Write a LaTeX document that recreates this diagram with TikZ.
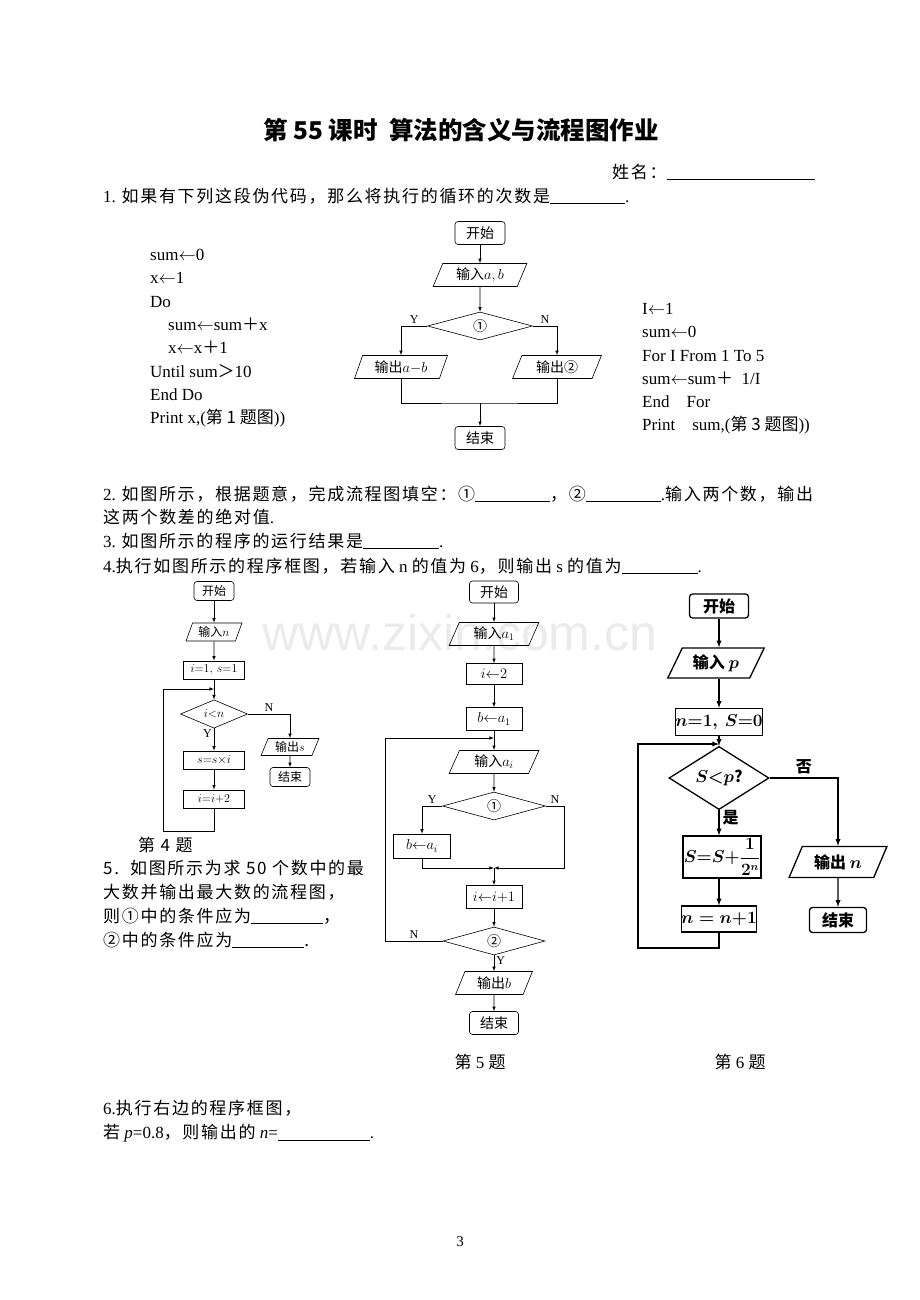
\documentclass[tikz,border=0pt]{standalone}
\usepackage{fontspec}
\setmainfont{Liberation Serif}
\newfontfamily\cjk{Noto Sans CJK SC}
\newfontfamily\cjkt{Noto Sans CJK SC}[LetterSpace=10]
\newfontfamily\wmfont{Liberation Sans}
\usetikzlibrary{shapes.geometric}
\newcommand{\blank}[1]{\underline{\hspace{#1}}}
\newcommand{\en}[1]{{\rmfamily #1}}
\newcommand{\larr}{$\leftarrow$}

\begin{document}
\begin{tikzpicture}[x=1pt,y=-1pt,>=latex,
    every node/.style={font=\cjkt\fontsize{17}{20}\selectfont},
    txt/.style={anchor=west, inner sep=0pt},
    code/.style={anchor=north west, inner sep=0pt, align=left, font=\rmfamily\fontsize{17}{23.3}\selectfont},
    box/.style={draw, line width=0.6pt, inner sep=0pt, font=\cjk\fontsize{14}{16}\selectfont},
    small/.style={font=\cjk\fontsize{12}{14}\selectfont},
    heavy/.style={line width=1.3pt, font=\cjk\bfseries\boldmath\fontsize{16}{18}\selectfont},
    term/.style={box, rounded corners=3pt},
    proc/.style={box, rectangle},
    io/.style={box, trapezium, trapezium left angle=67, trapezium right angle=113, trapezium stretches=true},
    dec/.style={box, diamond},
    conn/.style={line width=0.6pt},
    flow/.style={conn, ->},
    lab/.style={font=\rmfamily\fontsize{12}{14}\selectfont, inner sep=2pt}]
    \useasboundingbox (0,0) rectangle (920,1300);
    \node[text=gray!16, font=\wmfont\fontsize{50}{56}\selectfont] (wm) at (460,633) {www.zixin.com.cn};

    \node[font=\cjk\bfseries\fontsize{24.5}{28}\selectfont] (title) at (461,130) {第 55 课时\ \ 算法的含义与流程图作业};
    \node[txt] (name) at (612,172) {姓名：\blank{148pt}};
    \node[txt] (q1) at (103,196) {\en{1. }如果有下列这段伪代码，那么将执行的循环的次数是\blank{75pt}\en{.}};

    \node[code] (code1) at (150,249) {sum\larr0\\ x\larr1\\ Do\\ \hspace*{18pt}sum\larr sum{\cjk ＋}x\\ \hspace*{18pt}x\larr x{\cjk ＋}1\\ Until sum{\cjk ＞}10\\ End Do\\ Print x,({\cjk 第 1 题图}))};
    \node[code] (code3) at (642,303) {I\larr1\\ sum\larr0\\ For I From 1 To 5\\ sum\larr sum{\cjk ＋}\ \ 1/I\\ End\ \ \ \ For\\ Print\ \ \ \ sum,({\cjk 第 3 题图}))};

    \node[term, minimum width=50, minimum height=23] (s1) at (480,233) {开始};
    \node[io, minimum width=94, minimum height=23] (in1) at (480,275) {输入$a,b$};
    \node[dec, minimum width=105, minimum height=28] (d1) at (480,326) {①};
    \node[io, minimum width=93, minimum height=23] (o1l) at (401,367) {输出$a{-}b$};
    \node[io, minimum width=89, minimum height=23] (o1r) at (557,367) {输出②};
    \node[term, minimum width=50, minimum height=23] (e1) at (480,438) {结束};
    \coordinate (m1) at (480,403);
    \draw[flow] (s1) -- (in1);
    \draw[flow] (in1) -- (d1);
    \draw[flow] (d1.west) -| node[lab, above, pos=.25] {Y} (o1l);
    \draw[flow] (d1.east) -| node[lab, above, pos=.25] {N} (o1r);
    \draw[conn] (o1l) |- (m1) -| (o1r);
    \draw[flow] (m1) -- (e1);

    \node[txt] (q2) at (103,494) {\en{2. }如图所示，根据题意，完成流程图填空：①\blank{75pt}，②\blank{75pt}\en{.}输入两个数，输出};
    \node[txt] (q2b) at (103,517) {这两个数差的绝对值\en{.}};
    \node[txt] (q3) at (103,541) {\en{3. }如图所示的程序的运行结果是\blank{76pt}\en{.}};
    \node[txt] (q4) at (103,566) {\en{4.}执行如图所示的程序框图，若输入\en{ n }的值为\en{ 6}，则输出\en{ s }的值为\blank{76pt}\en{.}};

    \node[term, small, minimum width=40, minimum height=19] (s4) at (214,591) {开始};
    \node[io, small, minimum width=56, minimum height=18] (in4) at (214,632) {输入$n$};
    \node[proc, small, minimum width=61, minimum height=18] (p4a) at (214,670) {$i{=}1,\,s{=}1$};
    \coordinate (l4) at (214,689);
    \node[dec, small, minimum width=67, minimum height=28] (d4) at (214,714) {$i{<}n$};
    \node[io, small, minimum width=58, minimum height=17] (o4) at (290,747) {输出$s$};
    \node[term, small, minimum width=40, minimum height=19] (e4) at (290,777) {结束};
    \node[proc, small, minimum width=61, minimum height=18] (p4b) at (214,760) {$s{=}s{\times}i$};
    \node[proc, small, minimum width=61, minimum height=18] (p4c) at (214,799) {$i{=}i{+}2$};
    \coordinate (b4) at (214,831);
    \coordinate (lb4) at (163,831);
    \coordinate (lt4) at (163,689);
    \draw[flow] (s4) -- (in4);
    \draw[flow] (in4) -- (p4a);
    \draw[flow] (p4a) -- (d4);
    \draw[flow] (d4) -- node[lab, left, pos=.25] {Y} (p4b);
    \draw[flow] (p4b) -- (p4c);
    \draw[flow] (p4c) -- (b4) -- (lb4) -- (lt4) -- (l4);
    \draw[flow] (d4.east) -| node[lab, above, pos=.25] {N} (o4);
    \draw[flow] (o4) -- (e4);
    \node[txt] (cap4) at (138,845) {第 4 题};

    \node[txt] (q5a) at (103,868) {5.\ \ 如图所示为求 50 个数中的最};
    \node[txt] (q5b) at (103,892) {大数并输出最大数的流程图，};
    \node[txt] (q5c) at (103,916) {则①中的条件应为\blank{72pt}，};
    \node[txt] (q5d) at (103,940) {②中的条件应为\blank{72pt}.};

    \node[term, minimum width=49, minimum height=22] (s5) at (494,592) {开始};
    \node[io, minimum width=90, minimum height=23] (in5) at (494,634) {输入$a_1$};
    \node[proc, minimum width=56, minimum height=21] (p5a) at (494,674) {$i{\leftarrow}2$};
    \node[proc, minimum width=56, minimum height=23] (p5b) at (494,719) {$b{\leftarrow}a_1$};
    \coordinate (l5) at (494,738);
    \node[io, minimum width=90, minimum height=23] (in5b) at (494,762) {输入$a_i$};
    \node[dec, minimum width=103, minimum height=28] (d5a) at (494,806) {①};
    \node[proc, minimum width=57, minimum height=24] (p5c) at (422,846) {$b{\leftarrow}a_i$};
    \coordinate (m5) at (494,868);
    \coordinate (mr5) at (564,868);
    \node[proc, minimum width=56, minimum height=23] (p5d) at (494,897) {$i{\leftarrow}i{+}1$};
    \node[dec, minimum width=102, minimum height=28] (d5b) at (494,941) {②};
    \coordinate (lb5) at (385,941);
    \coordinate (lt5) at (385,738);
    \node[io, minimum width=77, minimum height=23] (o5) at (494,983) {输出$b$};
    \node[term, minimum width=49, minimum height=23] (e5) at (494,1023) {结束};
    \draw[flow] (s5) -- (in5);
    \draw[flow] (in5) -- (p5a);
    \draw[flow] (p5a) -- (p5b);
    \draw[flow] (p5b) -- (in5b);
    \draw[flow] (in5b) -- (d5a);
    \draw[flow] (d5a.west) -| node[lab, above, pos=.25] {Y} (p5c);
    \draw[flow] (d5a.east) -| node[lab, above, pos=.25] {N} (mr5) -- (m5);
    \draw[flow] (p5c) |- (m5);
    \draw[flow] (m5) -- (p5d);
    \draw[flow] (p5d) -- (d5b);
    \draw[flow] (d5b.west) -- node[lab, above] {N} (lb5) -- (lt5) -- (l5);
    \draw[flow] (d5b) -- node[lab, right, pos=.35] {Y} (o5);
    \draw[flow] (o5) -- (e5);

    \node[term, heavy, minimum width=59, minimum height=24] (s6) at (719,606) {开始};
    \node[io, heavy, trapezium left angle=60, trapezium right angle=120, minimum width=97, minimum height=30] (in6) at (716,663) {输入 $p$};
    \node[proc, heavy, minimum width=80, minimum height=27] (p6a) at (719,722) {$n{=}1,\ S{=}0$};
    \coordinate (l6) at (719,744);
    \node[dec, heavy, minimum width=100, minimum height=32] (d6) at (719,778) {$S{<}p$?};
    \node[proc, heavy, minimum width=78, minimum height=42] (p6b) at (722,857) {$\displaystyle S{=}S{+}\frac{1}{2^n}$};
    \node[proc, heavy, minimum width=75, minimum height=26] (p6c) at (719,919) {$n=n{+}1$};
    \node[io, heavy, trapezium left angle=60, trapezium right angle=120, minimum width=98, minimum height=31] (o6) at (838,862) {输出 $n$};
    \node[term, heavy, minimum width=57, minimum height=25] (e6) at (838,920) {结束};
    \coordinate (b6) at (719,948);
    \coordinate (lb6) at (638,948);
    \coordinate (lt6) at (638,744);
    \draw[flow, line width=1.3pt] (s6) -- (s6 |- in6.north);
    \draw[flow, line width=1.3pt] (s6 |- in6.south) -- (p6a);
    \draw[flow, line width=1.3pt] (p6a) -- (d6);
    \draw[flow, line width=1.3pt] (d6) -- node[heavy, right, pos=.3, inner sep=3pt] {是} (d6 |- p6b.north);
    \draw[flow, line width=1.3pt] (d6 |- p6b.south) -- (p6c);
    \draw[flow, line width=1.3pt] (p6c) -- (b6) -- (lb6) -- (lt6) -- (l6);
    \draw[flow, line width=1.3pt] (d6.east) -| node[heavy, above, pos=.25, inner sep=3pt] {否} (o6);
    \draw[flow, line width=1.3pt] (o6) -- (e6);

    \node (cap5) at (480,1062) {第\en{ 5 }题};
    \node (cap6) at (740,1062) {第\en{ 6 }题};
    \node[txt] (q6a) at (103,1108) {\en{6.}执行右边的程序框图，};
    \node[txt] (q6b) at (103,1133) {若\en{ \textit{p}=0.8}，则输出的\en{ \textit{n}=}\blank{92pt}\en{.}};
    \node[font=\rmfamily\fontsize{15}{18}\selectfont] (page) at (460,1242) {3};
\end{tikzpicture}
\end{document}
